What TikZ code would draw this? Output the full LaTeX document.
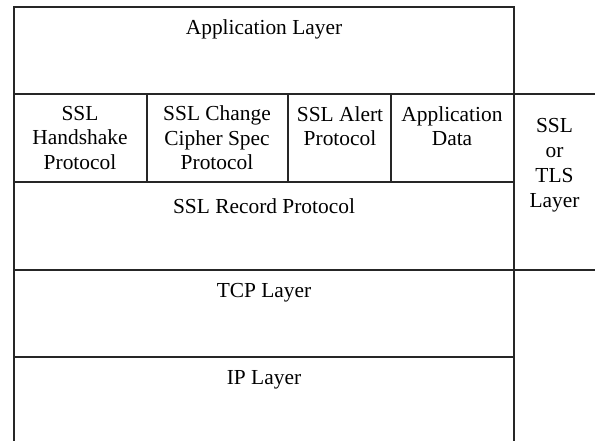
\documentclass[tikz,border=0pt]{standalone}
\usepackage{fontspec}
\setmainfont{Liberation Serif}
\usepackage{tikz}

\begin{document}
\begin{tikzpicture}[x=1pt, y=-1pt,
    grid line/.style={line width=1.7pt, draw=black!85, line cap=rect},
    cell text/.style={font=\fontsize{21.4}{24.5}\selectfont, align=center, inner sep=0pt}]
    % Fix the page to the reference size
    \useasboundingbox (0,0) rectangle (595,440);

    % Outer frame of the stack (open at the bottom)
    \draw[grid line] (14,440) -- (14,7) -- (514,7) -- (514,440);

    % Horizontal layer borders
    \draw[grid line] (14,94) -- (595,94);
    \draw[grid line] (14,182) -- (514,182);
    \draw[grid line] (14,270) -- (595,270);
    \draw[grid line] (14,357) -- (514,357);

    % Dividers between the upper SSL protocols
    \draw[grid line] (147,94) -- (147,182);
    \draw[grid line] (288,94) -- (288,182);
    \draw[grid line] (391,94) -- (391,182);

    % Labels
    \node[cell text] (app) at (264,29) {Application Layer};
    \node[cell text] (hand) at (80,138) {SSL\\Handshake\\Protocol};
    \node[cell text] (ccs) at (217,138) {SSL Change\\Cipher Spec\\Protocol};
    \node[cell text] (alert) at (340,126) {SSL Alert\\Protocol};
    \node[cell text] (data) at (452,126) {Application\\Data};
    \node[cell text] (record) at (264,206) {SSL Record Protocol};
    \node[cell text] (tcp) at (264,293) {TCP Layer};
    \node[cell text] (ip) at (264,380) {IP Layer};

    % Right: side label for the SSL/TLS block
    \node[cell text, font=\fontsize{21.4}{25}\selectfont] (tls) at (554.5,165) {SSL\\or\\TLS\\Layer};
\end{tikzpicture}
\end{document}
